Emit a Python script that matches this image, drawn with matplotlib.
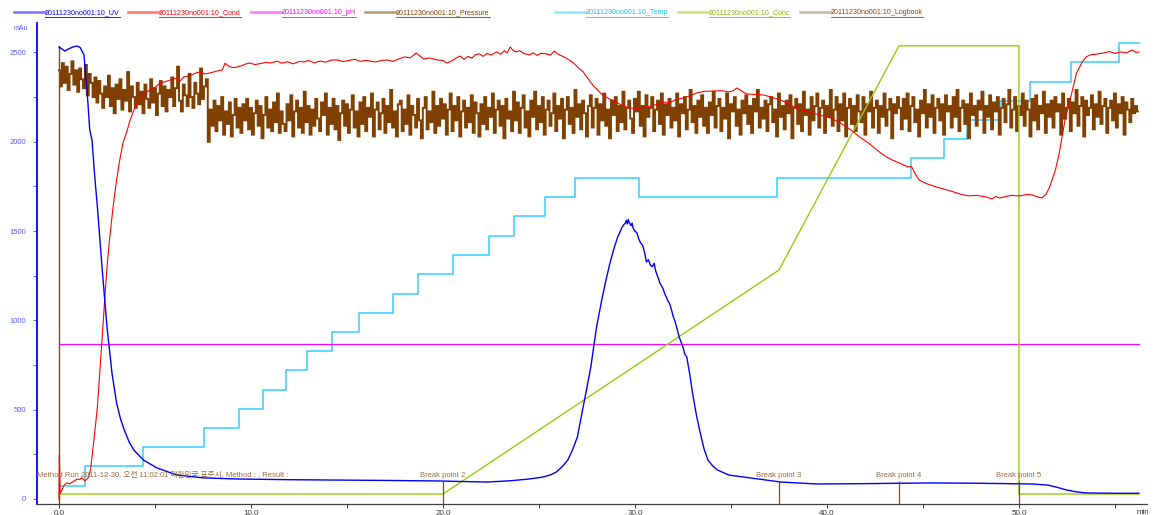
import numpy as np
import matplotlib
matplotlib.use("Agg")
import matplotlib.pyplot as plt
from matplotlib.lines import Line2D
from matplotlib.ticker import MultipleLocator, FormatStrFormatter

plt.rcParams["font.family"] = ["Liberation Sans", "Noto Sans CJK KR", "DejaVu Sans"]

W, H, DPI = 1159, 515, 100
RUN = "20111230no001:10"

# --- series -------------------------------------------------------------
UV_T = [0.0, 0.15, 0.3, 0.5, 0.75, 0.95, 1.1, 1.3, 1.46, 1.6, 1.72, 1.85, 2.0,
        2.24, 2.5, 2.76, 3.0, 3.2, 3.4, 3.65, 3.9, 4.4, 5.1, 6.15, 7.55, 9.3,
        12.0, 14.5, 17.0, 19.7, 21.0, 22.3, 23.5, 24.5, 25.2, 25.6, 25.9, 26.2,
        26.5, 26.75, 27.0, 27.3, 27.5, 27.7, 28.0, 28.3, 28.5, 28.7, 28.9, 29.1,
        29.2, 29.3, 29.4, 29.5, 29.55, 29.6, 29.65, 29.7, 29.8, 29.85, 29.9,
        30.0, 30.1, 30.2, 30.3, 30.4, 30.5, 30.6, 30.7, 30.8, 30.9, 31.0, 31.05,
        31.1, 31.2, 31.3, 31.45, 31.55, 31.7, 31.8, 31.9, 32.0, 32.1, 32.2,
        32.3, 32.4, 32.5, 32.6, 32.7, 32.85, 33.0, 33.2, 33.4, 33.6, 33.8,
        34.05, 34.3, 34.9, 36.0, 37.6, 39.5, 42.0, 45.5, 48.0, 50.7, 51.5, 52.0,
        52.5, 53.0, 53.5, 55.0, 56.25]
UV_V = [2531, 2520, 2508, 2520, 2532, 2536, 2528, 2486, 2290, 2066, 2010, 1820,
        1635, 1299, 963, 705, 537, 450, 386, 320, 274, 218, 174, 134, 118, 112,
        108, 106, 104, 101, 98, 95, 102, 112, 123, 135, 151, 180, 218, 275, 347,
        515, 625, 739, 963, 1131, 1230, 1322, 1400, 1467, 1490, 1515, 1534, 1545,
        1560, 1540, 1565, 1548, 1530, 1545, 1517, 1500, 1490, 1455, 1433, 1420,
        1380, 1327, 1340, 1310, 1300, 1320, 1290, 1270, 1240, 1209, 1180, 1150,
        1114, 1095, 1060, 1019, 990, 950, 907, 880, 850, 810, 795, 700, 593, 470,
        370, 280, 218, 185, 162, 134, 118, 95, 84, 86, 90, 88, 84, 78, 65, 50,
        40, 34, 32, 32]

COND_T = [0.0, 0.02, 0.06, 0.15, 0.25, 0.4, 0.55, 0.7, 0.85, 0.95, 1.05, 1.2,
          1.35, 1.45, 1.55, 1.65, 1.72, 1.85, 2.0, 2.12, 2.24, 2.37, 2.5, 2.63,
          2.76, 2.88, 3.0, 3.15, 3.33, 3.54, 3.7, 3.9, 4.05, 4.2, 4.45, 4.74,
          5.0, 5.26, 5.5, 5.8, 6.1, 6.3, 6.5, 6.8, 7.1, 7.34, 7.6, 7.86, 8.1,
          8.3, 8.5, 8.65, 8.75, 8.9, 9.1, 9.27, 9.5, 9.7, 9.95, 10.2, 10.5, 10.8,
          11.0, 11.2, 11.35, 11.6, 11.9, 12.2, 12.5, 12.75, 13.0, 13.3, 13.6,
          13.9, 14.2, 14.5, 14.8, 15.1, 15.4, 15.7, 16.0, 16.2, 16.5, 16.8, 17.1,
          17.4, 17.7, 18.0, 18.3, 18.6, 18.8, 19.0, 19.3, 19.7, 20.0, 20.2, 20.5,
          20.7, 20.9, 21.1, 21.3, 21.5, 21.7, 21.9, 22.1, 22.3, 22.5, 22.8, 23.0,
          23.2, 23.35, 23.5, 23.65, 23.8, 24.0, 24.2, 24.5, 24.7, 24.9, 25.1,
          25.4, 25.6, 25.8, 26.0, 26.3, 26.55, 26.8, 27.05, 27.3, 27.55, 27.8,
          28.05, 28.3, 28.7, 29.1, 29.4, 29.7, 30.1, 30.6, 31.0, 31.3, 31.5, 31.8,
          32.1, 32.5, 32.9, 33.2, 33.6, 34.1, 34.5, 34.9, 35.1, 35.3, 35.5, 35.8,
          36.2, 36.7, 37.1, 37.6, 38.0, 38.4, 38.8, 39.3, 39.6, 40.2, 40.7, 41.2,
          41.7, 42.2, 42.8, 43.1, 43.4, 43.8, 44.2, 44.4, 44.6, 44.8, 45.2, 45.7,
          46.1, 46.6, 47.0, 47.4, 47.8, 48.3, 48.6, 48.8, 49.0, 49.2, 49.6, 50.05,
          50.4, 50.7, 51.0, 51.2, 51.4, 51.6, 51.9, 52.1, 52.4, 52.7, 53.0, 53.3,
          53.5, 53.7, 54.0, 54.4, 54.7, 55.0, 55.3, 55.6, 55.9, 56.1, 56.25]
COND_V = [0, 246, 30, 50, 75, 90, 85, 95, 105, 112, 108, 118, 101, 110, 123, 170,
          235, 360, 515, 700, 890, 1100, 1299, 1450, 1579, 1690, 1786, 1890, 1993,
          2060, 2120, 2178, 2215, 2245, 2270, 2290, 2305, 2329, 2335, 2346, 2355,
          2340, 2363, 2370, 2384, 2391, 2380, 2385, 2392, 2398, 2402, 2440, 2430,
          2420, 2415, 2419, 2425, 2435, 2441, 2432, 2438, 2445, 2441, 2446, 2452,
          2440, 2448, 2436, 2450, 2447, 2455, 2442, 2452, 2446, 2458, 2458, 2449,
          2455, 2462, 2450, 2456, 2452, 2447, 2455, 2458, 2450, 2464, 2475, 2470,
          2497, 2480, 2464, 2469, 2458, 2455, 2441, 2455, 2470, 2480, 2462, 2478,
          2468, 2488, 2492, 2478, 2495, 2485, 2503, 2490, 2510, 2498, 2531, 2512,
          2503, 2510, 2495, 2486, 2498, 2484, 2495, 2492, 2485, 2508, 2490, 2475,
          2460, 2441, 2415, 2391, 2355, 2318, 2290, 2262, 2238, 2217, 2200, 2189,
          2186, 2195, 2205, 2215, 2223, 2218, 2235, 2245, 2258, 2273, 2282, 2284,
          2286, 2279, 2285, 2301, 2288, 2268, 2265, 2262, 2250, 2234, 2212, 2189,
          2175, 2161, 2150, 2133, 2105, 2070, 2027, 1990, 1937, 1915, 1898, 1880,
          1859, 1862, 1820, 1786, 1765, 1747, 1735, 1719, 1705, 1697, 1700, 1691,
          1680, 1693, 1685, 1691, 1700, 1697, 1705, 1702, 1690, 1686, 1705, 1747,
          1842, 1937, 2122, 2251, 2385, 2447, 2475, 2486, 2490, 2497, 2505, 2495,
          2503, 2498, 2514, 2500, 2503]

PH_T = [0.0, 56.25]
PH_V = [868, 868]

# pressure trace, one reading every 0.1 min
PRESSURE_V = [
    # 0.0 - 7.7 min
    2400, 2310, 2440, 2330, 2420, 2290, 2380, 2450, 2320, 2400, 2280, 2410, 2350, 2300, 2430, 2260, 2380, 2330, 2250, 2360,
    2220, 2340, 2270, 2190, 2310, 2250, 2370, 2200, 2300, 2160, 2320, 2240, 2350, 2180, 2290, 2230, 2390, 2170, 2310, 2250,
    2190, 2330, 2210, 2280, 2160, 2320, 2240, 2190, 2350, 2220, 2300, 2150, 2270, 2340, 2200, 2310, 2170, 2290, 2250, 2360,
    2200, 2300, 2420, 2230, 2170, 2320, 2260, 2200, 2380, 2250, 2190, 2330, 2270, 2210, 2410, 2240, 2310, 2350,
    # 7.8 min onwards
    2000, 2180, 2090, 2230, 2060, 2200, 2120, 2250, 2040, 2170, 2100, 2220, 2030, 2150, 2240, 2080, 2190, 2050, 2210, 2120,
    2240, 2070, 2190, 2040, 2160, 2230, 2090, 2200, 2020, 2150, 2250, 2080, 2180, 2060, 2220, 2110, 2270, 2050, 2170, 2100,
    2060, 2210, 2120, 2260, 2030, 2170, 2230, 2080, 2190, 2050, 2280, 2110, 2200, 2040, 2180, 2090, 2240, 2130, 2060, 2220,
    2150, 2270, 2040, 2190, 2100, 2240, 2070, 2200, 2010, 2160, 2230, 2090, 2210, 2050, 2180, 2260, 2080, 2170, 2030, 2220,
    2100, 2250, 2060, 2190, 2140, 2270, 2030, 2180, 2220, 2070, 2160, 2240, 2050, 2200, 2110, 2290, 2080, 2170, 2030, 2210,
    2230, 2060, 2180, 2100, 2260, 2040, 2200, 2150, 2080, 2240, 2120, 2020, 2190, 2250, 2070, 2170, 2110, 2280, 2050, 2200,
    2090, 2240, 2130, 2210, 2040, 2180, 2270, 2060, 2200, 2120, 2250, 2030, 2170, 2230, 2080, 2190, 2110, 2260, 2050, 2220,
    2160, 2030, 2210, 2100, 2250, 2070, 2190, 2140, 2270, 2050, 2180, 2230, 2090, 2200, 2020, 2240, 2130, 2170, 2060, 2280,
    2120, 2220, 2050, 2190, 2260, 2080, 2170, 2030, 2230, 2140, 2280, 2070, 2200, 2110, 2250, 2040, 2180, 2230, 2090, 2160,
    2270, 2060, 2200, 2130, 2240, 2020, 2180, 2250, 2100, 2190, 2050, 2290, 2140, 2210, 2070, 2230, 2160, 2030, 2200, 2260,
    2080, 2190, 2240, 2040, 2210, 2120, 2270, 2090, 2180, 2020, 2230, 2150, 2250, 2060, 2200, 2110, 2280, 2070, 2190, 2230,
    2130, 2050, 2240, 2170, 2280, 2090, 2200, 2030, 2260, 2140, 2190, 2250, 2060, 2180, 2230, 2100, 2270, 2040, 2210, 2150,
    2240, 2080, 2190, 2120, 2270, 2030, 2210, 2160, 2250, 2070, 2180, 2290, 2110, 2200, 2050, 2230, 2140, 2260, 2090, 2190,
    2050, 2220, 2150, 2280, 2080, 2200, 2240, 2060, 2190, 2130, 2270, 2020, 2210, 2170, 2250, 2090, 2180, 2040, 2230, 2160,
    2260, 2100, 2200, 2050, 2240, 2170, 2290, 2080, 2190, 2130, 2230, 2060, 2210, 2250, 2110, 2180, 2030, 2270, 2140, 2200,
    2070, 2230, 2160, 2260, 2020, 2190, 2240, 2100, 2210, 2060, 2280, 2150, 2180, 2040, 2250, 2120, 2200, 2270, 2080, 2190,
    2230, 2050, 2200, 2140, 2290, 2090, 2180, 2250, 2060, 2210, 2120, 2270, 2030, 2190, 2240, 2100, 2200, 2060, 2260, 2170,
    2110, 2250, 2040, 2210, 2170, 2280, 2080, 2190, 2230, 2050, 2200, 2140, 2270, 2090, 2180, 2240, 2020, 2210, 2160, 2250,
    2190, 2070, 2240, 2130, 2270, 2060, 2200, 2250, 2110, 2180, 2030, 2230, 2160, 2290, 2080, 2210, 2140, 2260, 2050, 2190,
    2240, 2120, 2210, 2040, 2260, 2170, 2200, 2080, 2250, 2140, 2290, 2060, 2190, 2230, 2100, 2210, 2020, 2270, 2150, 2200,
    2090, 2230, 2180, 2280, 2050, 2200, 2140, 2260, 2070, 2220, 2170, 2250, 2040, 2190, 2240, 2110, 2210, 2290, 2080, 2180,
    2250, 2060, 2200, 2150, 2270, 2090, 2230, 2180, 2030, 2240, 2120, 2260, 2070, 2200, 2160, 2280, 2050, 2210, 2140, 2230,
    2080, 2250, 2170, 2210, 2040, 2270, 2130, 2190, 2240, 2060, 2220, 2160, 2290, 2090, 2200, 2250, 2030, 2230, 2150, 2190,
    2260, 2070, 2210, 2140, 2280, 2100, 2200, 2240, 2050, 2190, 2230, 2120, 2270, 2080, 2210, 2160, 2250, 2040, 2220, 2180,
    2110, 2240, 2160, 2200, 2170,
]
PRESSURE_T = np.arange(len(PRESSURE_V)) * 0.1

TEMP_T = [0.0, 1.35, 4.4, 7.55, 9.4, 10.6, 11.8, 12.9, 14.2, 15.6, 17.4, 18.7,
          20.5, 22.4, 23.7, 25.3, 26.9, 30.2, 37.4, 44.4, 46.1, 47.3, 49.0,
          50.6, 52.7, 55.2, 56.25]
TEMP_V = [73, 185, 291, 398, 504, 610, 722, 829, 935, 1041, 1148, 1260, 1366,
          1473, 1585, 1691, 1797, 1691, 1797, 1909, 2016, 2122, 2229, 2335,
          2447, 2553, 2553]

CONC_T = [0.0, 20.0, 37.5, 43.75, 50.0, 50.0, 56.25]
CONC_V = [28, 28, 1282, 2537, 2537, 28, 28]

# logbook events
LOG_T = [20.0, 37.5, 43.75, 50.0]
LOG_LABELS = ["Break point 2", "Break point 3", "Break point 4", "Break point 5"]
LOG_TOP = 100
RUN_TOP = 2535
RUN_TEXT = "Method Run 2011-12-30, 오전 11:02:01 대한민국 표준시, Method : , Result :"

C_UV = "#0000ff"
C_COND = "#ff0000"
C_PH = "#ff00ff"
C_PRES = "#804000"
C_TEMP = "#33ccff"
C_CONC = "#99cc11"
C_LOG = "#8b4513"
C_LOGTXT = "#9a6a40"

fig = plt.figure(figsize=(W / DPI, H / DPI), dpi=DPI)
ax = fig.add_axes([37 / W, 1 - 504 / H, (1147 - 37) / W, (504 - 23) / H])
ax.set_xlim(-1.146, 56.67)
ax.set_ylim(-28, 2665)

ax.plot(TEMP_T, TEMP_V, color=C_TEMP, lw=1.1, drawstyle="steps-post", zorder=2)
ax.plot(PRESSURE_T, PRESSURE_V, color=C_PRES, lw=1.4, drawstyle="steps-mid",
        solid_joinstyle="miter", zorder=3)
ax.plot(PH_T, PH_V, color=C_PH, lw=0.9, zorder=4)
ax.plot(CONC_T, CONC_V, color=C_CONC, lw=1.0, zorder=4)
ax.plot(COND_T, COND_V, color=C_COND, lw=0.8, zorder=4)
ax.plot(UV_T, UV_V, color=C_UV, lw=1.0, zorder=5)

# logbook marks
ax.vlines([0.0], -28, RUN_TOP, color=C_LOG, lw=1.0, zorder=3)
ax.vlines(LOG_T, -28, LOG_TOP, color=C_LOG, lw=0.9, zorder=6)
for t, lab in zip(LOG_T, LOG_LABELS):
    ax.text(t, LOG_TOP + 12, lab, color=C_LOGTXT, fontsize=5.5,
            ha="center", va="bottom", zorder=7)
ax.text(-1.146, LOG_TOP + 12, RUN_TEXT, color=C_LOGTXT, fontsize=5.5,
        ha="left", va="bottom", zorder=7)

# axes styling
for s in ("top", "right"):
    ax.spines[s].set_visible(False)
ax.spines["left"].set_color("#0000ff")
ax.spines["left"].set_linewidth(1.3)
ax.spines["bottom"].set_color("#404040")
ax.spines["bottom"].set_linewidth(0.9)

ax.xaxis.set_major_locator(MultipleLocator(10))
ax.xaxis.set_minor_locator(MultipleLocator(5))
ax.xaxis.set_major_formatter(FormatStrFormatter("%.1f"))
ax.yaxis.set_major_locator(MultipleLocator(500))
ax.yaxis.set_minor_locator(MultipleLocator(250))
ax.tick_params(axis="x", which="both", direction="out", length=3, width=0.7,
               color="#404040", labelsize=5.8, labelcolor="#333333", pad=1)
ax.tick_params(axis="y", which="both", direction="out", length=3, width=0.7,
               color="#6666cc", labelsize=5.5, labelcolor="#5a5aff", pad=5)

fig.text(21 / W, 1 - 29 / H, "mAu", color="#5a5aff", fontsize=5,
         ha="center", va="center")
fig.text(1143 / W, 1 - 512 / H, "min", color="#333333", fontsize=5.8,
         ha="center", va="center")

# legend row along the top edge
legend = [
    ("UV", C_UV, "#0000ff", 14),
    ("Cond", C_COND, "#ff0000", 128),
    ("pH", C_PH, "#ff00ff", 251),
    ("Pressure", C_PRES, "#804000", 365),
    ("Temp", C_TEMP, "#22bbee", 555),
    ("Conc", C_CONC, "#88bb00", 678),
    ("Logbook", "#a07850", C_LOG, 800),
]
fig.canvas.draw()
renderer = fig.canvas.get_renderer()
for name, lc, tc, x0 in legend:
    y = 1 - 12 / H
    fig.add_artist(Line2D([x0 / W, (x0 + 31) / W], [y, y], color=lc,
                          lw=1.8, alpha=0.55, transform=fig.transFigure))
    txt = fig.text((x0 + 31) / W, 1 - 12.5 / H, f"{RUN}_{name}", color=tc,
                   fontsize=5.1, ha="left", va="center")
    bb = txt.get_window_extent(renderer)
    uy = 1 - 16.5 / H
    fig.add_artist(Line2D([bb.x0 / W, bb.x1 / W], [uy, uy], color=tc, lw=0.6,
                          transform=fig.transFigure))

fig.savefig("out.png", dpi=DPI, facecolor="white")
